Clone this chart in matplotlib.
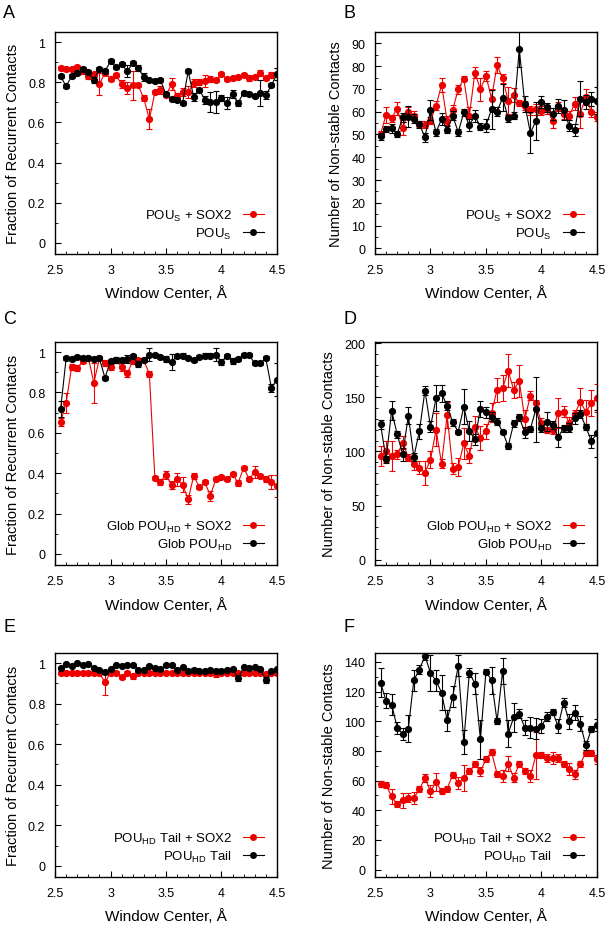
import matplotlib
matplotlib.use("Agg")
import matplotlib.pyplot as plt
from matplotlib.lines import Line2D
from matplotlib.ticker import MultipleLocator, FuncFormatter
import numpy as np

plt.rcParams['font.family'] = ['Liberation Sans', 'DejaVu Sans']
plt.rcParams['mathtext.fontset'] = 'custom'
plt.rcParams['mathtext.rm'] = 'Liberation Sans'
plt.rcParams['mathtext.it'] = 'Liberation Sans:italic'

# window centers 2.55 .. 4.50
window = np.round(np.arange(2.55, 4.501, 0.05), 2)

# panel A: fraction of recurrent contacts, POU_S
a_sox = [0.872, 0.867, 0.864, 0.875, 0.855, 0.83, 0.84, 0.79, 0.847, 0.816,
         0.834, 0.79, 0.77, 0.784, 0.784, 0.72, 0.615, 0.75, 0.76, 0.736,
         0.79, 0.73, 0.75, 0.75, 0.795, 0.80, 0.806, 0.817, 0.812, 0.839,
         0.817, 0.819, 0.824, 0.837, 0.819, 0.824, 0.847, 0.82, 0.834, 0.839]
a_sox_err = [0.01, 0.01, 0.01, 0.01, 0.015, 0.015, 0.01, 0.055, 0.01, 0.01,
             0.01, 0.02, 0.03, 0.07, 0.01, 0.015, 0.05, 0.01, 0.02, 0.01,
             0.03, 0.015, 0.02, 0.03, 0.02, 0.015, 0.03, 0.015, 0.01, 0.01,
             0.01, 0.01, 0.01, 0.01, 0.015, 0.01, 0.015, 0.01, 0.015, 0.03]
a_apo = [0.83, 0.78, 0.83, 0.847, 0.864, 0.85, 0.812, 0.867, 0.855, 0.904,
         0.875, 0.892, 0.854, 0.895, 0.87, 0.826, 0.812, 0.806, 0.809, 0.74,
         0.718, 0.713, 0.698, 0.855, 0.726, 0.762, 0.714, 0.70, 0.70, 0.72,
         0.696, 0.74, 0.698, 0.748, 0.742, 0.73, 0.748, 0.737, 0.784, 0.842]
a_apo_err = [0.01, 0.01, 0.01, 0.01, 0.01, 0.01, 0.015, 0.01, 0.01, 0.01,
             0.01, 0.01, 0.03, 0.01, 0.015, 0.02, 0.01, 0.01, 0.01, 0.01,
             0.01, 0.01, 0.01, 0.01, 0.02, 0.01, 0.02, 0.05, 0.055, 0.015,
             0.03, 0.02, 0.015, 0.01, 0.01, 0.01, 0.065, 0.02, 0.01, 0.03]

# panel B: number of non-stable contacts, POU_S
b_sox = [50.2, 58.7, 57.2, 61.4, 52.7, 60.0, 58.2, 54.6, 54.3, 56.0,
         62.6, 71.8, 56.0, 60.8, 69.9, 74.5, 58.2, 77.1, 69.9, 75.7,
         65.8, 80.5, 74.7, 64.8, 67.2, 63.8, 62.6, 60.7, 61.1, 60.4,
         61.1, 56.0, 62.2, 59.0, 58.2, 63.6, 59.2, 66.5, 60.0, 57.8]
b_sox_err = [1.5, 3.5, 1.5, 3.0, 3.0, 2.0, 2.0, 1.5, 1.5, 1.5,
             2.0, 3.0, 2.0, 2.0, 2.0, 1.0, 4.0, 2.5, 5.0, 2.0,
             4.0, 3.5, 2.0, 6.0, 3.0, 1.5, 2.0, 2.0, 2.5, 2.0,
             2.0, 3.0, 2.0, 2.0, 2.0, 3.0, 6.5, 3.5, 2.5, 2.0]
b_apo = [49.2, 52.4, 52.7, 50.2, 57.5, 57.9, 57.0, 54.5, 48.8, 60.7,
         51.0, 56.8, 52.1, 58.2, 51.0, 59.7, 54.1, 58.2, 53.4, 53.9,
         61.1, 60.0, 66.2, 57.2, 58.2, 87.6, 63.3, 50.7, 55.9, 64.3,
         61.9, 59.0, 62.6, 60.8, 53.9, 52.0, 65.8, 64.3, 65.5, 64.8]
b_apo_err = [1.5, 1.5, 2.0, 1.5, 2.0, 4.5, 2.0, 1.5, 2.0, 4.5,
             1.5, 2.5, 1.5, 2.0, 1.5, 1.5, 2.5, 2.5, 1.5, 3.0,
             8.5, 2.0, 6.0, 1.5, 1.5, 8.0, 3.5, 9.0, 8.5, 2.5,
             2.0, 2.5, 3.0, 4.5, 2.5, 2.5, 7.5, 3.0, 3.0, 6.0]

# panel C: fraction of recurrent contacts, Glob POU_HD
c_sox = [0.655, 0.749, 0.927, 0.919, 0.955, 0.972, 0.848, 0.969, 0.944, 0.927,
         0.959, 0.927, 0.894, 0.955, 0.959, 0.959, 0.893, 0.374, 0.357, 0.393,
         0.34, 0.369, 0.344, 0.27, 0.388, 0.33, 0.355, 0.289, 0.372, 0.38,
         0.369, 0.397, 0.352, 0.426, 0.372, 0.407, 0.388, 0.372, 0.355, 0.336]
c_sox_err = [0.02, 0.05, 0.015, 0.015, 0.01, 0.01, 0.1, 0.01, 0.015, 0.015,
             0.01, 0.02, 0.015, 0.015, 0.01, 0.01, 0.015, 0.01, 0.015, 0.02,
             0.02, 0.03, 0.035, 0.02, 0.015, 0.01, 0.01, 0.025, 0.01, 0.01,
             0.01, 0.01, 0.015, 0.01, 0.01, 0.03, 0.01, 0.015, 0.035, 0.055]
c_apo = [0.716, 0.969, 0.967, 0.975, 0.969, 0.969, 0.964, 0.969, 0.873, 0.955,
         0.959, 0.96, 0.964, 0.98, 0.942, 0.96, 0.988, 0.985, 0.977, 0.967,
         0.952, 0.98, 0.983, 0.972, 0.959, 0.977, 0.983, 0.983, 0.988, 0.952,
         0.98, 0.955, 0.967, 0.985, 0.985, 0.944, 0.944, 0.969, 0.823, 0.864]
c_apo_err = [0.04, 0.01, 0.01, 0.01, 0.01, 0.01, 0.01, 0.01, 0.01, 0.01,
             0.015, 0.01, 0.02, 0.01, 0.015, 0.01, 0.03, 0.01, 0.01, 0.015,
             0.04, 0.01, 0.01, 0.01, 0.01, 0.01, 0.01, 0.01, 0.03, 0.015,
             0.01, 0.015, 0.01, 0.01, 0.01, 0.01, 0.01, 0.01, 0.02, 0.08]

# panel D: number of non-stable contacts, Glob POU_HD
d_sox = [95.5, 100.0, 95.5, 97.4, 108.0, 94.3, 88.1, 85.0, 80.4, 92.4,
         120.0, 88.7, 133.5, 84.0, 85.6, 107.3, 95.8, 122.7, 112.5, 118.7,
         135.7, 156.7, 158.3, 174.6, 156.7, 165.0, 129.8, 151.5, 144.4, 125.8,
         119.6, 119.6, 135.7, 136.6, 126.4, 134.5, 145.9, 136.6, 144.4, 149.0]
d_sox_err = [9.0, 10.0, 14.0, 4.0, 6.0, 3.0, 5.0, 6.0, 11.0, 8.0,
             15.0, 4.0, 12.0, 5.0, 8.0, 14.0, 7.0, 10.0, 11.0, 7.0,
             9.0, 11.0, 12.0, 15.0, 7.0, 15.0, 8.0, 4.0, 3.0, 5.0,
             3.0, 4.0, 14.0, 5.0, 5.0, 4.0, 13.0, 11.0, 12.0, 13.0]
d_apo = [124.9, 92.7, 137.6, 115.6, 97.4, 132.9, 94.9, 118.7, 156.1, 122.7,
         149.0, 153.6, 142.2, 126.7, 118.1, 141.3, 118.7, 111.0, 139.1, 136.0,
         132.0, 127.4, 118.1, 104.8, 125.8, 131.4, 117.5, 120.6, 139.1, 121.2,
         127.4, 124.3, 113.4, 121.2, 121.8, 130.4, 134.5, 122.7, 109.4, 116.5]
d_apo_err = [4.0, 3.0, 9.0, 3.0, 6.0, 8.0, 4.0, 7.0, 4.0, 5.0,
             12.0, 8.0, 4.0, 3.0, 2.0, 16.0, 9.0, 5.0, 7.0, 5.0,
             4.0, 3.0, 2.0, 3.0, 3.0, 3.0, 5.0, 3.0, 30.0, 3.0,
             9.0, 4.0, 9.0, 3.0, 4.0, 5.0, 4.0, 3.0, 6.0, 22.0]

# panel E: fraction of recurrent contacts, POU_HD tail
e_sox = [0.952, 0.952, 0.952, 0.95, 0.952, 0.95, 0.952, 0.95, 0.905, 0.952,
         0.952, 0.93, 0.952, 0.934, 0.952, 0.952, 0.952, 0.952, 0.952, 0.952,
         0.952, 0.952, 0.95, 0.952, 0.952, 0.952, 0.952, 0.95, 0.945, 0.952,
         0.952, 0.952, 0.95, 0.952, 0.952, 0.952, 0.952, 0.945, 0.952, 0.95]
e_sox_err = [0.008, 0.008, 0.008, 0.01, 0.008, 0.008, 0.008, 0.008, 0.06, 0.008,
             0.008, 0.01, 0.008, 0.01, 0.008, 0.008, 0.008, 0.008, 0.008, 0.008,
             0.008, 0.008, 0.008, 0.008, 0.008, 0.008, 0.008, 0.008, 0.015, 0.008,
             0.008, 0.008, 0.008, 0.008, 0.008, 0.008, 0.008, 0.012, 0.008, 0.008]
e_apo = [0.975, 0.995, 0.987, 1.0, 0.99, 0.995, 0.978, 0.967, 0.954, 0.972,
         0.992, 0.987, 0.992, 0.992, 0.967, 0.967, 0.987, 0.978, 0.972, 0.989,
         0.989, 0.967, 0.983, 0.962, 0.967, 0.959, 0.959, 0.967, 0.962, 0.962,
         0.964, 0.972, 0.926, 0.98, 0.975, 0.98, 0.97, 0.917, 0.959, 0.972]
e_apo_err = [0.005, 0.005, 0.005, 0.005, 0.005, 0.005, 0.005, 0.005, 0.01, 0.005,
             0.005, 0.008, 0.005, 0.005, 0.005, 0.005, 0.005, 0.005, 0.005, 0.005,
             0.005, 0.005, 0.005, 0.005, 0.008, 0.005, 0.005, 0.005, 0.008, 0.005,
             0.005, 0.005, 0.015, 0.005, 0.005, 0.005, 0.005, 0.015, 0.005, 0.005]

# panel F: number of non-stable contacts, POU_HD tail
f_sox = [57.4, 56.7, 49.3, 43.9, 46.6, 48.4, 48.4, 54.0, 61.7, 52.7,
         59.0, 52.7, 54.5, 63.9, 58.3, 61.7, 66.2, 70.9, 66.2, 74.3,
         79.2, 64.6, 63.0, 71.3, 61.9, 71.3, 66.2, 63.0, 77.0, 77.4,
         75.2, 75.2, 75.2, 71.3, 68.0, 64.1, 71.3, 78.8, 78.8, 74.3]
f_sox_err = [2.0, 2.0, 5.0, 2.0, 5.0, 3.0, 4.0, 2.0, 3.0, 4.0,
             6.0, 2.0, 2.0, 2.0, 4.0, 9.0, 2.0, 2.0, 3.0, 2.0,
             2.0, 2.0, 4.0, 5.0, 3.0, 2.0, 2.0, 4.0, 16.0, 2.0,
             3.0, 4.0, 3.0, 2.0, 4.0, 3.0, 2.0, 2.0, 2.0, 3.0]
f_apo = [126.0, 113.7, 111.2, 95.7, 91.2, 95.0, 127.6, 134.8, 144.0, 132.6,
         127.2, 119.3, 100.6, 116.4, 137.3, 86.0, 132.8, 125.4, 87.8, 133.5,
         127.6, 100.0, 133.9, 91.6, 102.6, 104.9, 95.7, 95.7, 95.0, 96.8,
         102.9, 106.2, 96.8, 112.5, 100.0, 105.8, 98.4, 83.7, 94.5, 97.7]
f_apo_err = [10.0, 5.0, 7.0, 4.0, 4.0, 9.0, 7.0, 3.0, 3.0, 12.0,
             7.0, 12.0, 7.0, 7.0, 7.0, 8.0, 3.0, 7.0, 13.0, 2.0,
             9.0, 2.0, 9.0, 9.0, 10.0, 3.0, 5.0, 7.0, 7.0, 5.0,
             3.0, 2.0, 5.0, 3.0, 5.0, 5.0, 5.0, 3.0, 2.0, 4.0]

panels = [
    ("A", a_sox, a_sox_err, a_apo, a_apo_err, r"POU$_\mathrm{S}$ + SOX2", r"POU$_\mathrm{S}$"),
    ("B", b_sox, b_sox_err, b_apo, b_apo_err, r"POU$_\mathrm{S}$ + SOX2", r"POU$_\mathrm{S}$"),
    ("C", c_sox, c_sox_err, c_apo, c_apo_err, r"Glob POU$_\mathrm{HD}$ + SOX2", r"Glob POU$_\mathrm{HD}$"),
    ("D", d_sox, d_sox_err, d_apo, d_apo_err, r"Glob POU$_\mathrm{HD}$ + SOX2", r"Glob POU$_\mathrm{HD}$"),
    ("E", e_sox, e_sox_err, e_apo, e_apo_err, r"POU$_\mathrm{HD}$ Tail + SOX2", r"POU$_\mathrm{HD}$ Tail"),
    ("F", f_sox, f_sox_err, f_apo, f_apo_err, r"POU$_\mathrm{HD}$ Tail + SOX2", r"POU$_\mathrm{HD}$ Tail"),
]

# y settings for the count panels: (ymin, ymax, major, minor)
count_y = {"B": (-2.5, 95, 10, 5), "D": (-5, 201, 50, 10), "F": (-5, 146, 20, 10)}

fig = plt.figure(figsize=(6.08, 9.28), dpi=100)
lefts = [0.0905, 0.6168]
width = 0.365
rows = [(0.7252, 0.2392), (0.3900, 0.2404), (0.0539, 0.2414)]
letter_y = [0.995, 0.665, 0.333]

fmt = FuncFormatter(lambda v, p: "%g" % round(v, 6))

for k, (letter, sox, sox_err, apo, apo_err, lab_sox, lab_apo) in enumerate(panels):
    r, c = divmod(k, 2)
    ax = fig.add_axes([lefts[c], rows[r][0], width, rows[r][1]])

    ax.errorbar(window, apo, yerr=apo_err, color="black", marker="o", ms=4.2,
                lw=0.8, elinewidth=0.8, capsize=2.5, capthick=0.8, zorder=3)
    ax.errorbar(window, sox, yerr=sox_err, color="#ee0000", marker="o", ms=4.2,
                lw=0.8, elinewidth=0.8, capsize=2.5, capthick=0.8, zorder=2)

    ax.set_xlim(2.5, 4.5)
    ax.xaxis.set_major_locator(MultipleLocator(0.5))
    ax.xaxis.set_minor_locator(MultipleLocator(0.1))
    ax.xaxis.set_major_formatter(fmt)
    if c == 0:
        ax.set_ylim(-0.055, 1.05)
        ax.yaxis.set_major_locator(MultipleLocator(0.2))
        ax.yaxis.set_minor_locator(MultipleLocator(0.1))
        ax.set_ylabel("Fraction of Recurrent Contacts", fontsize=10.5, labelpad=6)
    else:
        lo, hi, maj, mnr = count_y[letter]
        ax.set_ylim(lo, hi)
        ax.yaxis.set_major_locator(MultipleLocator(maj))
        ax.yaxis.set_minor_locator(MultipleLocator(mnr))
        ax.set_ylabel("Number of Non-stable Contacts", fontsize=10.5, labelpad=6)
    ax.yaxis.set_major_formatter(fmt)
    ax.set_xlabel("Window Center, Å", fontsize=11, labelpad=7)
    ax.tick_params(which="both", direction="in", top=False, right=False, labelsize=9)
    ax.tick_params(which="major", length=4, pad=7)
    ax.tick_params(which="minor", length=2)
    for s in ax.spines.values():
        s.set_linewidth(1.0)

    handles = [Line2D([], [], color="#ee0000", marker="o", ms=4, lw=0.8),
               Line2D([], [], color="black", marker="o", ms=4, lw=0.8)]
    ax.legend(handles, [lab_sox, lab_apo], loc="lower right", frameon=False,
              markerfirst=False, handlelength=1.6, fontsize=9.5,
              labelspacing=0.2, borderaxespad=0.6)

    fig.text(0.005 + c * 0.56, letter_y[r], letter,
             fontsize=13, va="top", ha="left")

fig.savefig("out.png", dpi=100)
